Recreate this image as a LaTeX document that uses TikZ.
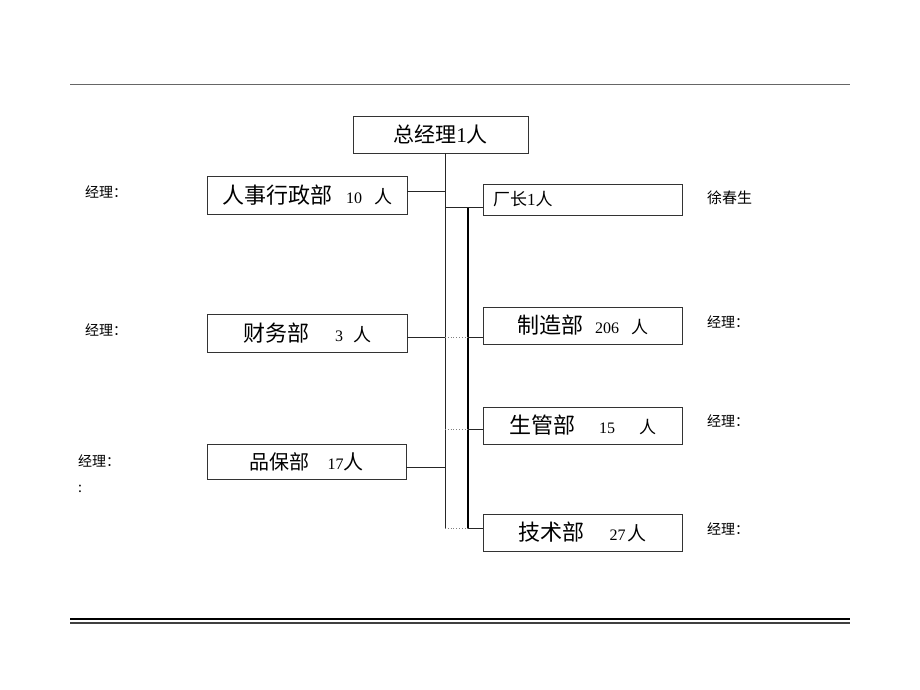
\documentclass[tikz,border=0pt]{standalone}
\usepackage{fontspec}
\setmainfont{Liberation Serif}
\newfontfamily\cjk{Noto Sans CJK SC}
\usepackage{tikz}
\newcommand{\fsz}[1]{\fontsize{#1}{#1}\selectfont}
\tikzstyle{node:box}=[draw=black!80,thick,inner sep=0pt]
\tikzstyle{node:dept}=[node:box,minimum width=199pt,minimum height=37pt]
\tikzstyle{node:note}=[inner sep=0pt,font=\fsz{14}\cjk]
\tikzstyle{draw:connection}=[black!85,line width=0.9pt]
\tikzstyle{draw:branch}=[black,line width=1.6pt]
\tikzstyle{draw:dots}=[black!50,dotted,line width=0.8pt]

\begin{document}
\begin{tikzpicture}[x=1pt,y=-1pt]
        \useasboundingbox (0,0) rectangle (920,690);

        % Rules at top and bottom
        \draw[black!60,line width=0.8pt] (70,84) -- (850,84);
        \draw[black,line width=2.6pt] (70,619) -- (850,619);
        \draw[black!75,line width=1.2pt] (70,623) -- (850,623);

        % General manager
        \node[node:box,minimum width=175pt,minimum height=37pt] (gm) at (440.5,134.5)
            {\fsz{21}{\cjk 总经理}1{\cjk 人}};

        % Left departments
        \node[node:dept,minimum width=200pt,minimum height=38pt] (hr) at (307,195)
            {{\fsz{22}\cjk 人事行政部}\hspace{14pt}{\fsz{16}10}\hspace{12pt}{\fsz{18}\cjk 人}};
        \node[node:dept,minimum width=200pt,minimum height=38pt] (fin) at (307,333)
            {{\fsz{22}\cjk 财务部}\hspace{26pt}{\fsz{16}3}\hspace{10pt}{\fsz{18}\cjk 人}};
        \node[node:dept,minimum height=35pt] (qa) at (306.5,461.5)
            {{\fsz{20}\cjk 品保部}\hspace{18pt}{\fsz{16}17}{\fsz{20}\cjk 人}};

        % Right departments
        \node[node:dept,minimum height=31pt] (plant) at (582.5,199.5) {};
        \node[anchor=west,inner sep=0pt] (plantlabel) at (493,199.5)
            {\fsz{17}{\cjk 厂长}1{\cjk 人}};
        \node[node:dept] (mfg) at (582.5,325.5)
            {{\fsz{22}\cjk 制造部}\hspace{12pt}{\fsz{16}206}\hspace{12pt}{\fsz{17}\cjk 人}};
        \node[node:dept] (pc) at (582.5,425.5)
            {{\fsz{22}\cjk 生管部}\hspace{24pt}{\fsz{16}15}\hspace{24pt}{\fsz{17}\cjk 人}};
        \node[node:dept] (tech) at (582.5,532.5)
            {{\fsz{22}\cjk 技术部}\hspace{25pt}{\fsz{16}27}\hspace{2pt}{\fsz{19}\cjk 人}};

        % Notes
        \node[node:note,anchor=west] (nhr) at (85,192) {经理：};
        \node[node:note,anchor=west] (nfin) at (85,330) {经理：};
        \node[node:note,anchor=west] (nqa) at (78,461) {经理：};
        \node[node:note,anchor=west] (nqa2) at (78,489) {:};
        \node[node:note,anchor=west,font=\fsz{15}\cjk] (nplant) at (707,198) {徐春生};
        \node[node:note,anchor=west] (nmfg) at (707,322) {经理：};
        \node[node:note,anchor=west] (npc) at (707,421) {经理：};
        \node[node:note,anchor=west] (ntech) at (707,529) {经理：};

        % Trunks and junctions
        \coordinate (t0) at (445,153);
        \coordinate (t1) at (445,528);
        \coordinate (s0) at (468,207);
        \coordinate (s1) at (468,528);
        \coordinate (jhr) at (445,191);
        \coordinate (jfin) at (445,337);
        \coordinate (jqa) at (445,467);
        \coordinate (jplant) at (445,207);
        \coordinate (jpc) at (445,429);
        \coordinate (jtech) at (445,528);

        \draw[draw:connection] (gm.south -| t0) -- (t1);
        \draw[draw:branch] (s0) -- (s1);

        % Connections to the left
        \draw[draw:connection] (hr.east |- jhr) -- (jhr);
        \draw[draw:connection] (fin.east |- jfin) -- (jfin);
        \draw[draw:connection] (qa.east |- jqa) -- (jqa);

        % Connections to the right
        \draw[draw:connection] (jplant) -- (plant.west |- jplant);
        \draw[draw:dots] (jfin) -- (s0 |- jfin);
        \draw[draw:connection] (s0 |- jfin) -- (mfg.west |- jfin);
        \draw[draw:dots] (jpc) -- (s0 |- jpc);
        \draw[draw:connection] (s0 |- jpc) -- (pc.west |- jpc);
        \draw[draw:dots] (jtech) -- (s1);
        \draw[draw:connection] (s1) -- (tech.west |- s1);

    \end{tikzpicture}
\end{document}
